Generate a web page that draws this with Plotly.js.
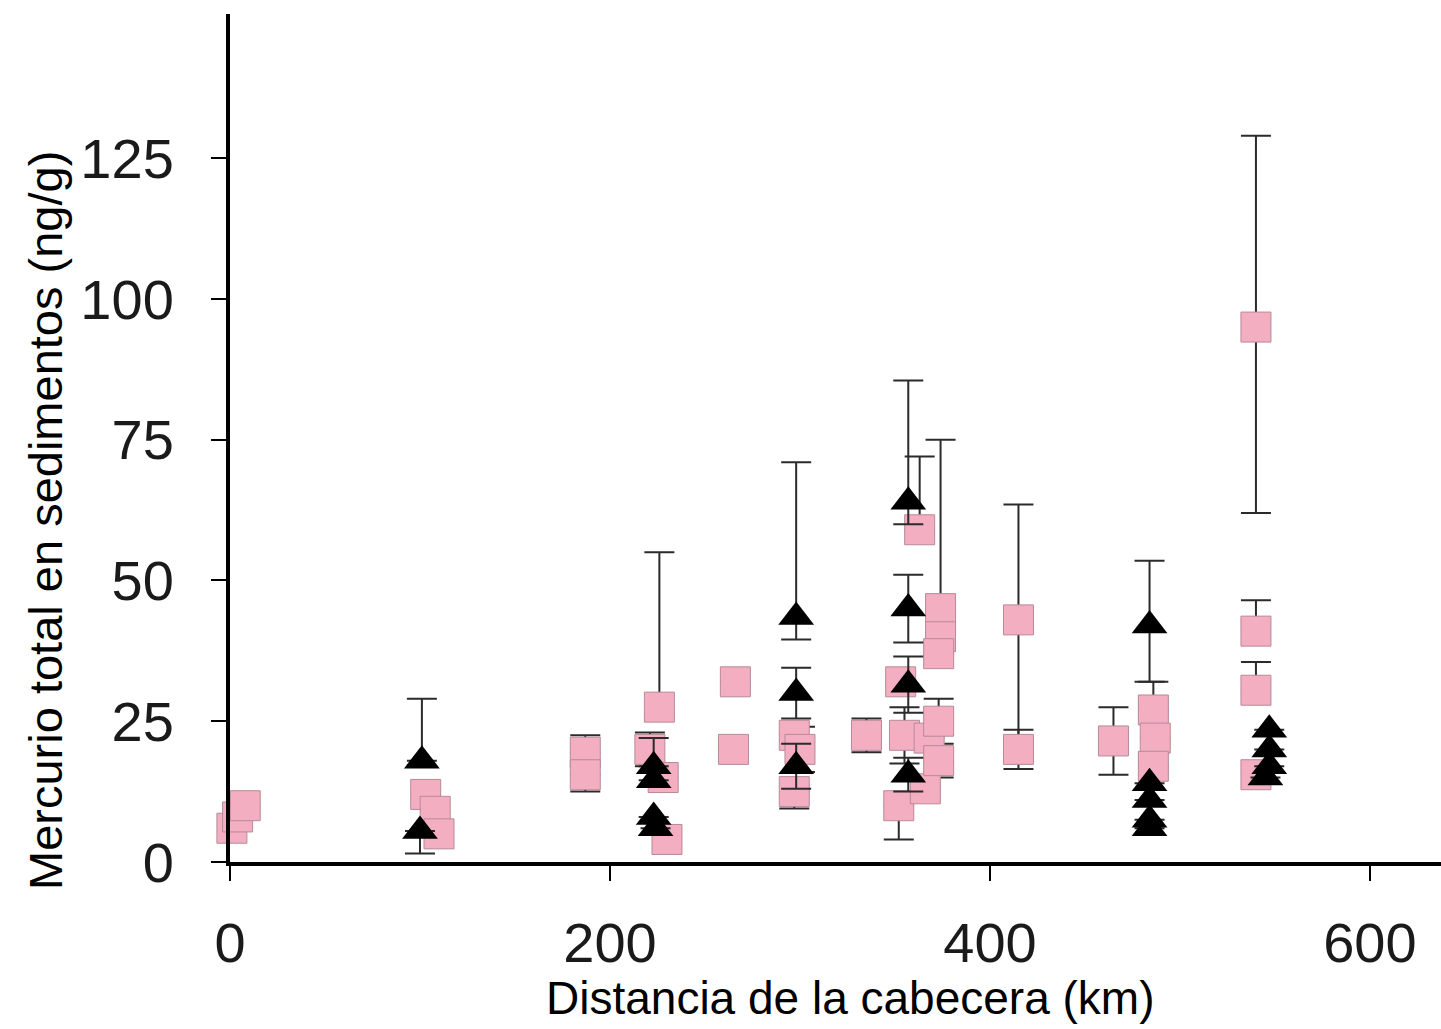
<!DOCTYPE html>
<html>
<head>
<meta charset="utf-8">
<script src="https://cdn.plot.ly/plotly-3.0.1.min.js"></script>
<style>html,body{margin:0;padding:0;background:#fff;}#chart{width:1441px;height:1029px;}</style>
</head>
<body>
<div id="chart"></div>
<script>
// Pink squares
const sqX = [1, 4, 8, 103, 108, 110, 187, 187, 221, 226, 228, 230, 266, 265, 297, 300, 297, 335, 353, 355, 352, 363, 366, 368, 374, 374, 373, 373, 373, 415, 415, 465, 486, 487, 486, 540, 540, 540, 540];
const sqY = [6, 8, 10, 12, 9, 5, 19.5, 15.5, 20, 27.5, 15, 4, 32, 20, 22.5, 20, 12.5, 22.5, 32, 22.5, 10, 59, 13, 22, 45, 40, 37, 25, 18, 43, 20, 21.5, 27, 22, 17, 95, 41, 30.5, 15.5];
const sqErrPlus = [0, 0, 0, 0, 0, 0, 3, 0, 3, 27.5, 0, 0, 0, 0, 0, 4, 0, 3, 0, 5, 0, 13, 0, 0, 30, 0, 0, 4, 0, 20.5, 3.5, 6, 5, 0, 0, 34, 5.5, 5, 0];
const sqErrMinus = [0, 0, 0, 0, 0, 0, 0, 3, 3, 2, 0, 0, 0, 0, 0, 4, 3, 3, 0, 5, 6, 0, 0, 0, 0, 0, 0, 4, 3, 21, 3.5, 6, 0, 0, 0, 33, 0, 0, 0];

// Black triangles
const trX = [101, 100, 223, 223, 223, 224, 298, 298, 298, 357, 357, 357, 357, 484, 484, 484, 484, 484, 547, 547, 547, 545];
const trY = [18, 5.5, 17, 14.5, 8, 6, 43.5, 30, 17, 64, 45, 31.5, 15.5, 42, 14, 11, 7.5, 6, 23.5, 20, 17, 15];
const trErrPlus = [11, 0, 5, 0, 0, 0, 27.5, 4.5, 4, 21.5, 6, 5, 3, 11.5, 0, 0, 0, 0, 0, 0, 0, 0];
const trErrMinus = [0, 4, 0, 0, 0, 0, 4, 4.5, 4, 4, 6, 5, 3, 10, 0, 0, 0, 0, 0, 0, 0, 0];

const xTicks = [0, 200, 400, 600];
const yTicks = [0, 25, 50, 75, 100, 125];

const xTitle = 'Distancia de la cabecera (km)';
const yTitle = 'Mercurio total en sedimentos (ng/g)';

const errStyle = {color: '#2b2b2b', thickness: 2, width: 15};

const traces = [
  {
    type: 'scatter', mode: 'markers', x: sqX, y: sqY,
    marker: {symbol: 'square', size: 30, color: '#f3aec1', line: {color: '#b88a98', width: 1}},
    error_y: Object.assign({type: 'data', symmetric: false, array: sqErrPlus, arrayminus: sqErrMinus, visible: true}, errStyle),
    hoverinfo: 'x+y', showlegend: false, cliponaxis: false
  },
  {
    type: 'scatter', mode: 'markers', x: trX, y: trY,
    marker: {symbol: 'triangle-up', size: 31, color: '#000000', line: {width: 0}},
    error_y: Object.assign({type: 'data', symmetric: false, array: trErrPlus, arrayminus: trErrMinus, visible: true}, errStyle),
    hoverinfo: 'x+y', showlegend: false, cliponaxis: false
  }
];

const layout = {
  width: 1441, height: 1029,
  paper_bgcolor: '#ffffff', plot_bgcolor: '#ffffff',
  margin: {l: 230, r: 0, t: 14, b: 167},
  font: {family: 'Liberation Sans, Arial, sans-serif', color: '#1a1a1a'},
  xaxis: {
    range: [0, 637.4], tickvals: xTicks, ticktext: xTicks.map(String),
    showgrid: false, zeroline: false, showline: true, linecolor: '#000', linewidth: 4,
    ticks: 'outside', ticklen: 15, tickwidth: 2, tickcolor: '#000',
    tickfont: {size: 56, color: '#1a1a1a'}, ticklabelstandoff: 14
  },
  yaxis: {
    range: [0, 150.6], tickvals: yTicks, ticktext: yTicks.map(String),
    showgrid: false, zeroline: false, showline: true, linecolor: '#000', linewidth: 4,
    ticks: 'outside', ticklen: 15, tickwidth: 2, tickcolor: '#000',
    tickfont: {size: 56, color: '#1a1a1a'}, ticklabelstandoff: 26
  },
  annotations: [
    {text: xTitle, xref: 'paper', yref: 'paper', x: 0.512, y: -0.1604, xanchor: 'center', yanchor: 'middle',
     showarrow: false, font: {size: 46, color: '#000'}},
    {text: yTitle, xref: 'paper', yref: 'paper', x: -0.1528, y: 0.4033, xanchor: 'center', yanchor: 'middle',
     textangle: -90, showarrow: false, font: {size: 47, color: '#000'}}
  ]
};

Plotly.newPlot('chart', traces, layout, {staticPlot: true});
</script>
</body>
</html>
